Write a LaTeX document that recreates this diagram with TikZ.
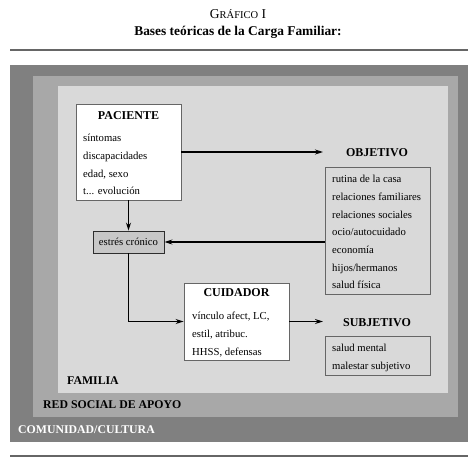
\documentclass[tikz,border=0pt]{standalone}
\usepackage{fontspec}
\setmainfont{Liberation Serif}
\usetikzlibrary{arrows.meta}
\usetikzlibrary{positioning}

\definecolor{comunidad}{gray}{0.50}
\definecolor{redsocial}{gray}{0.66}
\definecolor{familia}{gray}{0.85}
\definecolor{estresfondo}{gray}{0.78}
\definecolor{borde}{gray}{0.40}

\tikzset{
  caja/.style={draw=borde, line width=0.9pt, rectangle, inner sep=0pt},
  titulo/.style={font=\fontsize{12}{14}\selectfont\bfseries, inner sep=0pt},
  lista/.style={font=\fontsize{10.7}{17.7}\selectfont, align=left, inner sep=0pt, anchor=north west},
  flecha/.style={line width=1.2pt, -{Stealth[length=8pt,width=5pt]}},
  nivel/.style={font=\fontsize{11.8}{14}\selectfont\bfseries, inner sep=0pt, anchor=west}
}

\begin{document}
\begin{tikzpicture}[x=1pt,y=-1pt]
\useasboundingbox (0,0) rectangle (476,466);
\fill[white] (0,0) rectangle (476,466);
% titulo
\node[font=\fontsize{13.5}{15}\selectfont, inner sep=0pt] (grafico) at (238,14) {G{\fontsize{10.5}{12}\selectfont RÁFICO} I};
\node[titulo, font=\fontsize{13.4}{15}\selectfont\bfseries] (bases) at (238,32) {Bases teóricas de la Carga Familiar:};
\draw[borde, line width=1.4pt] (10,50) -- (468,50);
\draw[borde, line width=1.4pt] (10,456) -- (468,456);
% niveles
\fill[comunidad] (10,65) rectangle (468,442);
\fill[redsocial] (33,76) rectangle (458,417);
\fill[familia] (58,86) rectangle (448,393);
\node[nivel] (familia) at (67,381) {FAMILIA};
\node[nivel] (red) at (43,405) {RED SOCIAL DE APOYO};
\node[nivel, white] (comun) at (18,430) {COMUNIDAD/CULTURA};

% cajas
\node[caja, fill=white, minimum width=105pt, minimum height=96pt] (paciente) at (128.5,152) {};
\node[titulo] at (128.5,116) {PACIENTE};
\node[lista] at (83,134) {síntomas\\discapacidades\\edad, sexo\\t... evolución};

\node[caja, fill=estresfondo, draw=gray!35!black, minimum width=71pt, minimum height=22pt,
  font=\fontsize{10.7}{12}\selectfont] (estres) at (128.5,242) {estrés crónico};

\node[titulo] (objetivo) at (377,153) {OBJETIVO};
\node[caja, minimum width=105pt, minimum height=127pt] (objbox) at (377.5,230.5) {};
\node[lista] at (332,175) {rutina de la casa\\relaciones familiares\\relaciones sociales\\ocio/autocuidado\\economía\\hijos/hermanos\\salud física};

\node[caja, fill=white, minimum width=105pt, minimum height=77pt] (cuidador) at (236.5,321.5) {};
\node[titulo] at (236.5,293) {CUIDADOR};
\node[lista] at (192,312) {vínculo afect, LC,\\estil, atribuc.\\HHSS, defensas};

\node[titulo] (subjetivo) at (377,323) {SUBJETIVO};
\node[caja, minimum width=105pt, minimum height=39pt] (subbox) at (377.5,355.5) {};
\node[lista] at (332,344) {salud mental\\malestar subjetivo};

% flechas
\coordinate (objpunta) at (323,152);
\coordinate (subpunta) at (323,321.5);
\draw[flecha] (paciente) -- (estres);
\draw[flecha] (paciente.east |- objpunta) -- (objpunta);
\draw[flecha] (objbox.west |- estres.east) -- (estres.east);
\draw[flecha] (estres.south) |- (cuidador.west);
\draw[flecha] (cuidador.east) -- (subpunta);
\end{tikzpicture}
\end{document}
